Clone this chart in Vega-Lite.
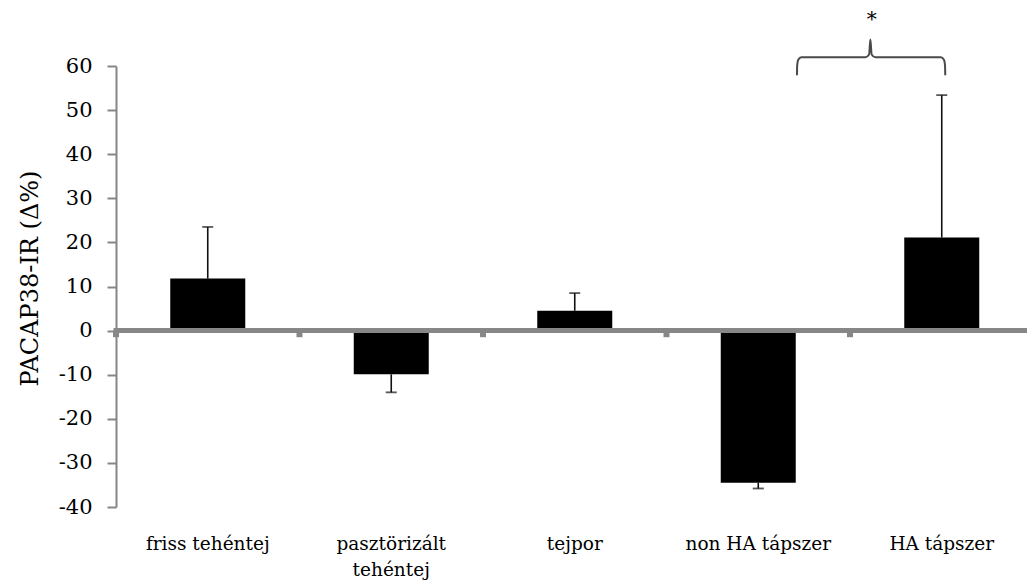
{
  "$schema": "https://vega.github.io/schema/vega-lite/v6.json",
  "autosize": "none",
  "width": 911,
  "height": 441,
  "padding": {"left": 116, "top": 66, "right": 0, "bottom": 78},
  "background": "white",
  "config": {
    "view": {"stroke": null},
    "font": "DejaVu Serif"
  },
  "datasets": {
    "groups": [
      {"cat": "friss tehéntej", "mean": 11.8, "err": 23.5},
      {"cat": "pasztörizált tehéntej", "mean": -9.9, "err": -14.0},
      {"cat": "tejpor", "mean": 4.5, "err": 8.5},
      {"cat": "non HA tápszer", "mean": -34.5, "err": -35.8},
      {"cat": "HA tápszer", "mean": 21.1, "err": 53.4}
    ],
    "brace": [
      {"o": 1, "bx": 3.711, "by": 57.9},
      {"o": 2, "bx": 3.712, "by": 60.0},
      {"o": 3, "bx": 3.718, "by": 61.4},
      {"o": 4, "bx": 3.735, "by": 62.0},
      {"o": 5, "bx": 4.085, "by": 62.0},
      {"o": 6, "bx": 4.104, "by": 62.6},
      {"o": 7, "bx": 4.111, "by": 66.0},
      {"o": 8, "bx": 4.118, "by": 62.6},
      {"o": 9, "bx": 4.137, "by": 62.0},
      {"o": 10, "bx": 4.495, "by": 62.0},
      {"o": 11, "bx": 4.512, "by": 61.4},
      {"o": 12, "bx": 4.518, "by": 60.0},
      {"o": 13, "bx": 4.519, "by": 57.9}
    ]
  },
  "resolve": {"scale": {"x": "independent"}, "axis": {"x": "independent"}},
  "layer": [
    {
      "data": {"name": "groups"},
      "mark": {"type": "bar", "size": 75, "color": "#000000"},
      "encoding": {
        "x": {
          "field": "cat", "type": "nominal", "sort": null,
          "scale": {"range": [0, 917.5], "paddingInner": 0, "paddingOuter": 0},
          "axis": {
            "title": null, "domain": false, "ticks": false, "labelAngle": 0,
            "labelFont": "DejaVu Serif", "labelFontSize": 18.5, "labelColor": "#000000",
            "labelBaseline": "top", "labelPadding": 27, "labelLineHeight": 26,
            "labelExpr": "datum.value == 'pasztörizált tehéntej' ? ['pasztörizált', 'tehéntej'] : datum.label"
          }
        },
        "y": {
          "field": "mean", "type": "quantitative",
          "scale": {"domain": [-40, 60], "nice": false, "zero": false},
          "axis": {
            "title": "PACAP38-IR (Δ%)",
            "values": [-40, -30, -20, -10, 0, 10, 20, 30, 40, 50, 60],
            "labelExpr": "datum.value + ''",
            "grid": false,
            "domainColor": "#868686", "domainWidth": 2,
            "tickColor": "#868686", "tickWidth": 2, "tickSize": 9,
            "labelFont": "DejaVu Serif", "labelFontSize": 21, "labelColor": "#000000", "labelPadding": 15,
            "titleFont": "DejaVu Serif", "titleFontSize": 24, "titleFontWeight": "normal",
            "titleColor": "#000000", "titlePadding": 16, "titleY": 212
          }
        }
      }
    },
    {
      "data": {"name": "groups"},
      "mark": {"type": "rule", "color": "#111111", "strokeWidth": 1.6},
      "encoding": {
        "x": {"field": "cat", "type": "nominal", "sort": null,
              "scale": {"range": [0, 917.5], "paddingInner": 0, "paddingOuter": 0}, "axis": null},
        "y": {"field": "mean", "type": "quantitative"},
        "y2": {"field": "err"}
      }
    },
    {
      "data": {"name": "groups"},
      "mark": {"type": "tick", "orient": "horizontal", "color": "#111111", "size": 11, "thickness": 1.8},
      "encoding": {
        "x": {"field": "cat", "type": "nominal", "sort": null,
              "scale": {"range": [0, 917.5], "paddingInner": 0, "paddingOuter": 0}, "axis": null},
        "y": {"field": "err", "type": "quantitative"}
      }
    },
    {
      "data": {"values": [{"zero": 0}]},
      "mark": {"type": "rule", "color": "#878787", "strokeWidth": 5, "strokeCap": "square"},
      "encoding": {
        "y": {"field": "zero", "type": "quantitative"}
      }
    },
    {
      "data": {"values": [{"edge": 0}, {"edge": 1}, {"edge": 2}, {"edge": 3}, {"edge": 4}]},
      "mark": {"type": "rule", "color": "#878787", "strokeWidth": 6},
      "encoding": {
        "x": {"field": "edge", "type": "quantitative",
              "scale": {"domain": [0, 5], "range": [0, 917.5], "nice": false, "zero": false}, "axis": null},
        "y": {"datum": 0},
        "y2": {"datum": -1.5}
      }
    },
    {
      "data": {"name": "brace"},
      "mark": {"type": "line", "color": "#4a4a4a", "strokeWidth": 2, "interpolate": "monotone"},
      "encoding": {
        "x": {"field": "bx", "type": "quantitative",
              "scale": {"domain": [0, 5], "range": [0, 917.5], "nice": false, "zero": false}, "axis": null},
        "y": {"field": "by", "type": "quantitative"},
        "order": {"field": "o", "type": "quantitative"}
      }
    },
    {
      "data": {"values": [{"sx": 4.118, "sy": 69.0, "label": "*"}]},
      "mark": {"type": "text", "font": "DejaVu Serif", "fontSize": 20, "color": "#000000", "baseline": "alphabetic", "align": "center"},
      "encoding": {
        "x": {"field": "sx", "type": "quantitative",
              "scale": {"domain": [0, 5], "range": [0, 917.5], "nice": false, "zero": false}, "axis": null},
        "y": {"field": "sy", "type": "quantitative"},
        "text": {"field": "label"}
      }
    }
  ]
}
